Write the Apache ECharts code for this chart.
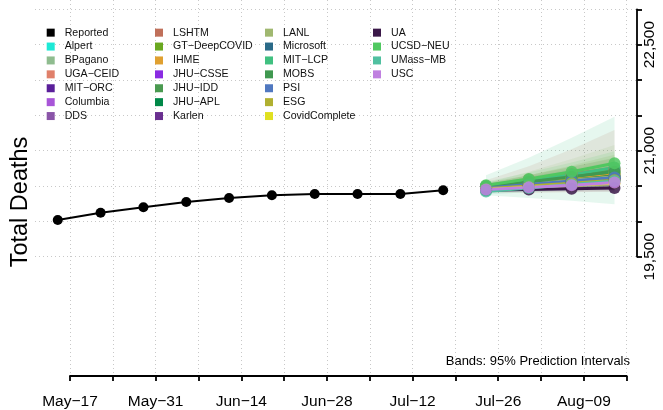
<!DOCTYPE html>
<html>
<head>
<meta charset="utf-8">
<script src="https://cdn.jsdelivr.net/npm/echarts@6/dist/echarts.min.js"></script>
<style>
  html, body { margin: 0; padding: 0; background: #fff; }
  #chart { width: 663px; height: 410px; }
</style>
</head>
<body>
<div id="chart"></div>
<script>
// values
const reportedDates = ['2020-05-15', '2020-05-22', '2020-05-29', '2020-06-05', '2020-06-12',
  '2020-06-19', '2020-06-26', '2020-07-03', '2020-07-10', '2020-07-17'];
const reportedValues = [20019, 20122, 20198, 20273, 20330, 20368, 20386, 20386, 20386, 20439];

const forecastDates = ['2020-07-24', '2020-07-31', '2020-08-07', '2020-08-14'];

const models = ['Alpert', 'BPagano', 'UGA−CEID', 'MIT−ORC', 'Columbia', 'DDS',
  'LSHTM', 'GT−DeepCOVID', 'IHME', 'JHU−CSSE', 'JHU−IDD', 'JHU−APL', 'Karlen',
  'LANL', 'Microsoft', 'MIT−LCP', 'MOBS', 'PSI', 'ESG', 'CovidComplete',
  'UA', 'UCSD−NEU', 'UMass−MB', 'USC'];

const forecastValues = [
  [20470, 20520, 20570, 20620],
  [20480, 20550, 20620, 20690],
  [20490, 20570, 20650, 20730],
  [20460, 20520, 20580, 20640],
  [20470, 20510, 20560, 20600],
  [20460, 20500, 20540, 20580],
  [20500, 20590, 20670, 20750],
  [20480, 20540, 20610, 20680],
  [20470, 20530, 20600, 20660],
  [20460, 20510, 20560, 20610],
  [20490, 20560, 20640, 20720],
  [20470, 20520, 20580, 20640],
  [20460, 20500, 20550, 20590],
  [20470, 20520, 20580, 20630],
  [20460, 20510, 20560, 20610],
  [20500, 20580, 20660, 20760],
  [20480, 20560, 20630, 20700],
  [20470, 20520, 20570, 20620],
  [20460, 20500, 20540, 20580],
  [20450, 20480, 20510, 20540],
  [20440, 20450, 20460, 20470],
  [20510, 20600, 20700, 20820],
  [20420, 20470, 20520, 20570],
  [20450, 20480, 20510, 20550]
];

const bandLower = [
  [20440, 20460, 20480, 20500],
  [20440, 20470, 20500, 20530],
  [20450, 20490, 20530, 20570],
  [20430, 20460, 20490, 20520],
  [20420, 20430, 20440, 20450],
  [20430, 20440, 20450, 20460],
  [20400, 20400, 20410, 20420],
  [20430, 20460, 20490, 20520],
  [20440, 20470, 20500, 20530],
  [20420, 20440, 20460, 20480],
  [20430, 20470, 20510, 20550],
  [20430, 20450, 20480, 20510],
  [20430, 20450, 20470, 20490],
  [20420, 20430, 20450, 20470],
  [20420, 20440, 20460, 20480],
  [20370, 20330, 20290, 20240],
  [20440, 20490, 20540, 20580],
  [20440, 20470, 20500, 20530],
  [20430, 20450, 20470, 20490],
  [20420, 20440, 20460, 20480],
  [20420, 20420, 20420, 20420],
  [20460, 20510, 20570, 20630],
  [20380, 20410, 20440, 20460],
  [20420, 20440, 20460, 20480]
];

const bandUpper = [
  [20500, 20580, 20660, 20740],
  [20520, 20630, 20740, 20850],
  [20530, 20650, 20770, 20890],
  [20490, 20580, 20670, 20760],
  [20520, 20600, 20690, 20780],
  [20490, 20560, 20630, 20700],
  [20580, 20780, 21020, 21290],
  [20530, 20650, 20790, 20940],
  [20500, 20590, 20690, 20790],
  [20500, 20580, 20660, 20750],
  [20550, 20650, 20770, 20900],
  [20510, 20590, 20680, 20770],
  [20490, 20550, 20630, 20690],
  [20540, 20700, 20880, 21080],
  [20500, 20580, 20660, 20740],
  [20650, 20900, 21180, 21480],
  [20520, 20630, 20720, 20820],
  [20500, 20570, 20640, 20710],
  [20490, 20560, 20610, 20670],
  [20480, 20520, 20560, 20600],
  [20460, 20480, 20500, 20520],
  [20560, 20690, 20830, 20990],
  [20460, 20530, 20610, 20690],
  [20480, 20530, 20570, 20620]
];

const yTickLabels = [19500, 21000, 22500];

const modelColors = ['#1de9d6', '#8fbc8f', '#e0806a', '#5a1f9a', '#a855d8', '#8a55a8',
  '#c0705a', '#6aa820', '#e0a030', '#8a2be2', '#4a9a50', '#008848', '#6a3090',
  '#a0b870', '#2a6a88', '#40c080', '#409850', '#5078c0', '#b0b030', '#e0e020',
  '#3a1848', '#50c860', '#50c0a0', '#c080e0'];

const FONT = '"Liberation Sans", Arial, sans-serif';
const MONTHS = ['Jan', 'Feb', 'Mar', 'Apr', 'May', 'Jun', 'Jul', 'Aug', 'Sep', 'Oct', 'Nov', 'Dec'];
const origin = Date.UTC(2020, 4, 17);

function dayOf(s) {
  const p = s.split('-').map(Number);
  return (Date.UTC(p[0], p[1] - 1, p[2]) - origin) / 86400000;
}
function dayLabel(d) {
  const dt = new Date(origin + d * 86400000);
  const dd = String(dt.getUTCDate()).padStart(2, '0');
  return MONTHS[dt.getUTCMonth()] + '−' + dd;
}

const fDays = forecastDates.map(dayOf);
const gridDots = { color: '#c8c8c8', width: 1, type: [1, 3] };
const axisBlack = { color: '#000', width: 1.8 };

let series = [];

// prediction bands first, so they sit under the lines
models.forEach(function (name, m) {
  series.push({
    name: name + ' band',
    type: 'custom',
    xAxisIndex: 0,
    yAxisIndex: 0,
    silent: true,
    z: 1,
    data: fDays.map(function (d, i) { return [d, bandLower[m][i], bandUpper[m][i]]; }),
    encode: { x: 0, y: [1, 2] },
    renderItem: function (params, api) {
      if (params.dataIndex !== 0) return;
      let top = fDays.map(function (d, i) { return api.coord([d, bandUpper[m][i]]); });
      let bot = fDays.map(function (d, i) { return api.coord([d, bandLower[m][i]]); }).reverse();
      return {
        type: 'polygon',
        shape: { points: top.concat(bot) },
        style: { fill: modelColors[m], opacity: 0.13 }
      };
    }
  });
});

series.push({
  name: 'Reported',
  type: 'line',
  xAxisIndex: 0,
  yAxisIndex: 0,
  z: 5,
  color: '#000',
  symbol: 'circle',
  symbolSize: 10,
  lineStyle: { width: 2, color: '#000' },
  data: reportedDates.map(function (d, i) { return [dayOf(d), reportedValues[i]]; })
});

models.forEach(function (name, m) {
  series.push({
    name: name,
    type: 'line',
    xAxisIndex: 0,
    yAxisIndex: 0,
    z: 3,
    color: modelColors[m],
    symbol: 'circle',
    symbolSize: 12,
    itemStyle: { opacity: 0.85 },
    lineStyle: { width: 3, color: modelColors[m] },
    data: fDays.map(function (d, i) { return [d, forecastValues[m][i]]; })
  });
});

const legendCols = [
  ['Reported'].concat(models.slice(0, 6)),
  models.slice(6, 13),
  models.slice(13, 20),
  models.slice(20)
];
const legendLeft = [46.7, 155, 265, 373];

const legends = legendCols.map(function (names, c) {
  return {
    orient: 'vertical',
    left: legendLeft[c],
    top: 25.7,
    padding: 0,
    itemGap: 0,
    itemWidth: 8,
    itemHeight: 8,
    icon: 'rect',
    selectedMode: false,
    itemStyle: { opacity: 1, borderWidth: 0 },
    textStyle: { fontFamily: FONT, fontSize: 10.6, color: '#111', lineHeight: 13.9, padding: [0, 0, 0, 5] },
    data: names
  };
});

const chart = echarts.init(document.getElementById('chart'), null, { renderer: 'canvas' });

const option = {
  animation: false,
  backgroundColor: '#fff',
  textStyle: { fontFamily: FONT },
  grid: [
    { left: 35, right: 26, top: 0, bottom: 34, outerBoundsMode: 'none' },
    { left: 70, right: 36.3, top: 0, bottom: 34, outerBoundsMode: 'none' },
    { left: 35, right: 26, top: 9.3, bottom: 153.3, outerBoundsMode: 'none' }
  ],
  xAxis: [
    { gridIndex: 0, type: 'value', min: -5.721, max: 92.68, show: false },
    {
      gridIndex: 1, type: 'value', min: 0, max: 91, interval: 7,
      axisLine: { onZero: false, lineStyle: axisBlack },
      axisTick: { length: 5, lineStyle: axisBlack },
      splitLine: { show: true, lineStyle: gridDots },
      axisLabel: {
        margin: 18, color: '#000', fontSize: 15.5, fontFamily: FONT,
        showMinLabel: true, showMaxLabel: true,
        formatter: function (v) { return v % 14 === 0 ? dayLabel(v) : ''; }
      }
    },
    { gridIndex: 2, type: 'value', min: 0, max: 1, show: false }
  ],
  yAxis: [
    { gridIndex: 0, type: 'value', min: 17813.5, max: 23128.8, show: false },
    { gridIndex: 1, type: 'value', min: 0, max: 1, show: false },
    {
      gridIndex: 2, type: 'value', position: 'right', min: 19500, max: 23000, interval: 500,
      axisLine: { show: true, onZero: false, lineStyle: axisBlack },
      axisTick: { show: true, length: 5, lineStyle: axisBlack },
      splitLine: { show: true, lineStyle: gridDots },
      axisLabel: {
        rotate: 90, margin: 5, color: '#000', fontSize: 15.5, fontFamily: FONT,
        showMinLabel: true, showMaxLabel: true,
        formatter: function (v) {
          return yTickLabels.indexOf(v) >= 0 ? v.toLocaleString('en-US') : '';
        }
      }
    }
  ],
  legend: legends,
  graphic: [
    {
      type: 'text', x: 21, y: 202, rotation: Math.PI / 2, silent: true,
      style: { text: 'Total Deaths', fontFamily: FONT, fontSize: 23.5, fill: '#000', align: 'center', verticalAlign: 'middle' }
    },
    {
      type: 'text', x: 630, y: 361, silent: true,
      style: { text: 'Bands: 95% Prediction Intervals', fontFamily: FONT, fontSize: 13, fill: '#000', align: 'right', verticalAlign: 'middle' }
    }
  ],
  series: series
};

chart.setOption(option);
</script>
</body>
</html>
